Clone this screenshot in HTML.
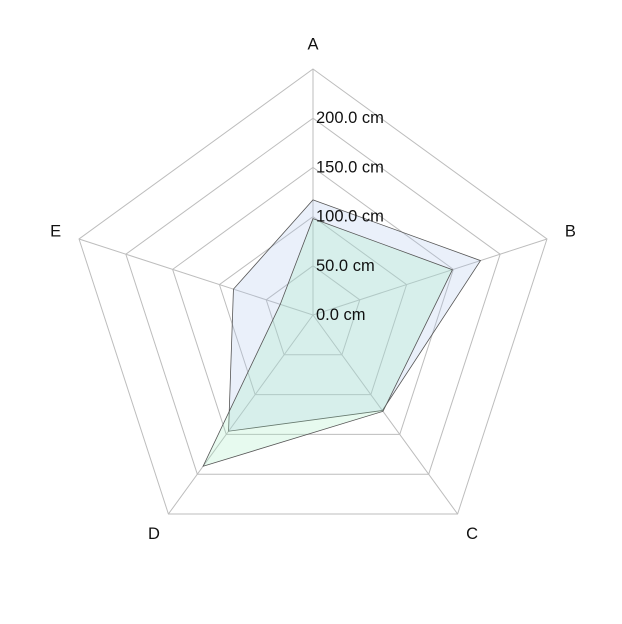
<!DOCTYPE html>
<html><head><meta charset="utf-8"><style>
html,body{margin:0;padding:0;background:#fff;}
svg{display:block;font-family:"Liberation Sans",sans-serif;}
</style></head><body>
<svg id="chart" width="622" height="624"></svg>
<script>
const categories=["A","B","C","D","E"];
const seriesBlue=[117,179,120,146,85];
const seriesGreen=[98,149,121,190,35];
const tickValues=[0,50,100,150,200,250];
const tickLabels=["0.0 cm","50.0 cm","100.0 cm","150.0 cm","200.0 cm"];
const NS="http://www.w3.org/2000/svg";
const svg=document.getElementById("chart");
const cx=313,cy=315,R=246,maxV=250;
function ang(i){return -Math.PI/2+i*2*Math.PI/categories.length;}
function pt(i,v){const r=v/maxV*R;return [cx+r*Math.cos(ang(i)),cy+r*Math.sin(ang(i))];}
function mk(tag,attrs){const e=document.createElementNS(NS,tag);for(const k in attrs)e.setAttribute(k,attrs[k]);svg.appendChild(e);return e;}
tickValues.forEach((t,k)=>{if(t===0)return;
 const p=mk("polygon",{points:categories.map((c,i)=>pt(i,t).join(",")).join(" "),fill:"none",stroke:"#bdbdbd","stroke-width":1});
 
 
});
categories.forEach((c,i)=>{const q=pt(i,maxV);
 const l=mk("line",{x1:cx,y1:cy,x2:q[0],y2:q[1],stroke:"#bdbdbd","stroke-width":1});
 
 
});
function series(vals,fill,name){
 const p=mk("polygon",{points:vals.map((v,i)=>pt(i,v).join(",")).join(" "),fill:fill,stroke:"#555","stroke-width":0.8});
 
 
}
series(seriesBlue,"rgba(170,195,235,0.25)","series-blue");
series(seriesGreen,"rgba(160,235,190,0.25)","series-green");
tickLabels.forEach((s,k)=>{const y=cy-tickValues[k]/maxV*R;
 const t=mk("text",{x:316,y:y+5,"font-size":16.5,fill:"#111"});t.textContent=s;
 
 
});
categories.forEach((c,i)=>{const q=pt(i,maxV+25);
 const t=mk("text",{x:q[0],y:q[1]+5,"font-size":16.5,fill:"#111","text-anchor":"middle"});t.textContent=c;
 
 
});
</script>
</body></html>
